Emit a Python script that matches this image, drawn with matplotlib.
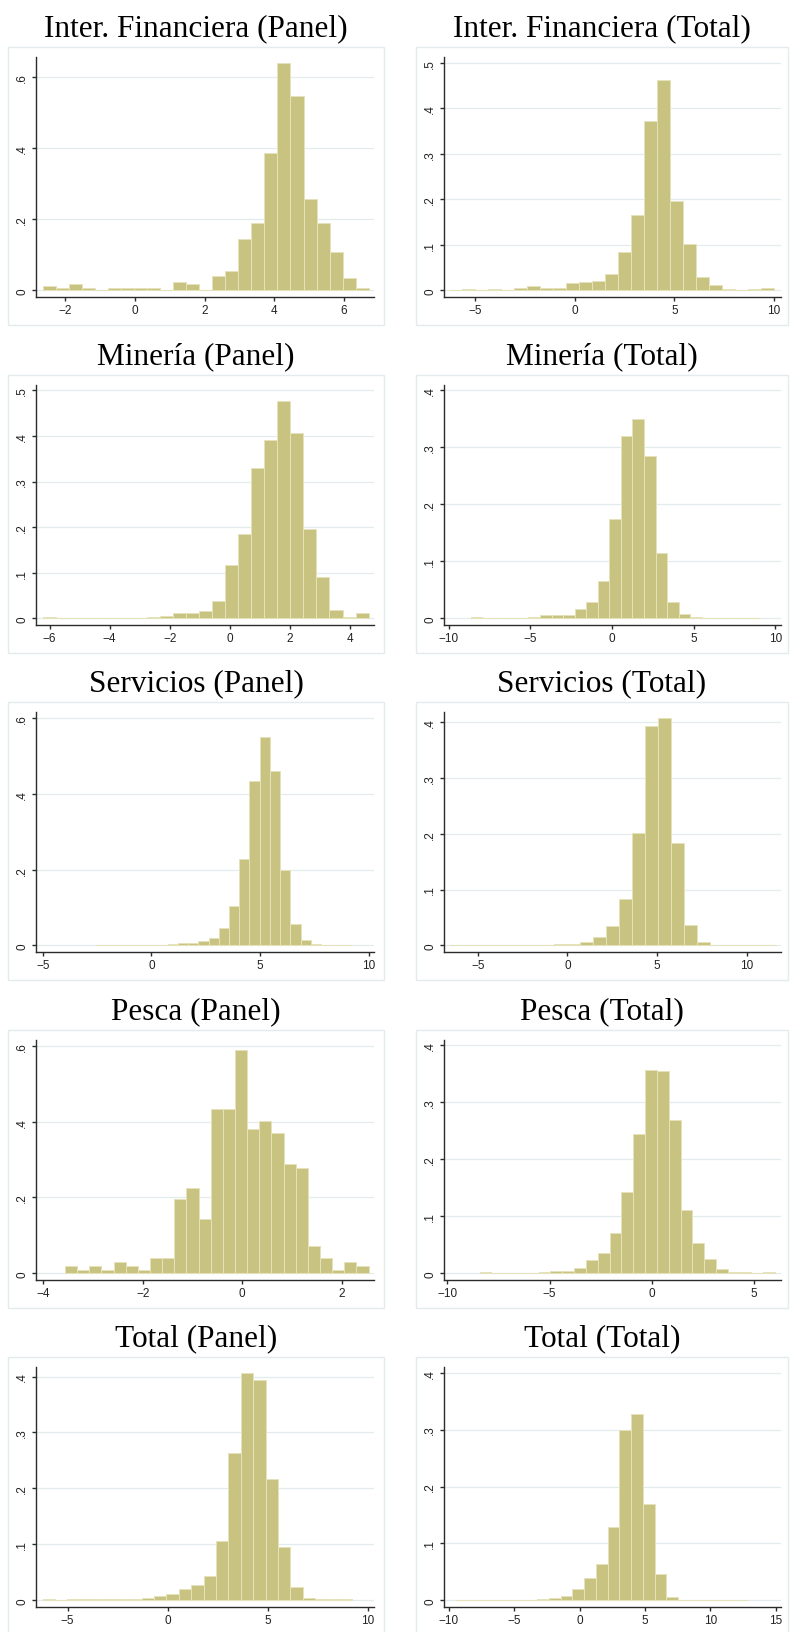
import matplotlib

matplotlib.use("Agg")
import matplotlib.pyplot as plt
import numpy as np
from matplotlib.patches import Rectangle

# Panel titles, left column = Panel, right column = Total
TITLES = [
    "Inter. Financiera (Panel)", "Inter. Financiera (Total)",
    "Minería (Panel)", "Minería (Total)",
    "Servicios (Panel)", "Servicios (Total)",
    "Pesca (Panel)", "Pesca (Total)",
    "Total (Panel)", "Total (Total)",
]

# histogram range (first edge, last edge) and density of the 25 bins
IF_PANEL_RANGE = (-2.65, 6.71)
IF_PANEL = [0.012, 0.007, 0.019, 0.0075, 0, 0.007, 0.007, 0.007, 0.007, 0,
            0.024, 0.019, 0, 0.041, 0.053, 0.143, 0.19, 0.385, 0.64, 0.545,
            0.257, 0.19, 0.109, 0.036, 0.0075]

IF_TOTAL_RANGE = (-6.31, 10.0)
IF_TOTAL = [0.001, 0.003, 0, 0.002, 0.001, 0.006, 0.009, 0.006, 0.006, 0.016,
            0.019, 0.021, 0.037, 0.085, 0.165, 0.372, 0.462, 0.196, 0.101,
            0.029, 0.012, 0.004, 0, 0.003, 0.006]

MIN_PANEL_RANGE = (-6.23, 4.61)
MIN_PANEL = [0.003, 0, 0, 0, 0, 0, 0, 0, 0.003, 0.005, 0.011, 0.011, 0.017,
             0.037, 0.118, 0.184, 0.33, 0.392, 0.477, 0.407, 0.195, 0.09,
             0.019, 0.003, 0.012]

MIN_TOTAL_RANGE = (-8.67, 9.04)
MIN_TOTAL = [0.002, 0, 0.001, 0.001, 0.001, 0.002, 0.005, 0.005, 0.005, 0.017,
             0.029, 0.065, 0.174, 0.32, 0.35, 0.284, 0.114, 0.029, 0.007,
             0.003, 0.001, 0.001, 0, 0.001, 0.001]

SERV_PANEL_RANGE = (-2.54, 9.2)
SERV_PANEL = [0.002, 0.002, 0.002, 0.002, 0.002, 0.002, 0.002, 0.003, 0.005,
              0.007, 0.012, 0.02, 0.046, 0.105, 0.228, 0.435, 0.55, 0.46, 0.2,
              0.056, 0.015, 0.004, 0.002, 0.002, 0.002]

SERV_TOTAL_RANGE = (-6.57, 11.62)
SERV_TOTAL = [0.001, 0.001, 0.001, 0.001, 0.001, 0.001, 0.001, 0.001, 0.002,
              0.003, 0.006, 0.015, 0.035, 0.083, 0.202, 0.393, 0.407, 0.184,
              0.037, 0.006, 0.001, 0.001, 0.001, 0.001, 0.001]

PESCA_PANEL_RANGE = (-3.566, 2.54)
PESCA_PANEL = [0.02, 0.01, 0.02, 0.01, 0.03, 0.02, 0.01, 0.041, 0.041, 0.196,
               0.226, 0.144, 0.433, 0.433, 0.588, 0.381, 0.402, 0.371, 0.289,
               0.278, 0.072, 0.041, 0.01, 0.03, 0.02]

PESCA_TOTAL_RANGE = (-8.42, 6.03)
PESCA_TOTAL = [0.002, 0, 0.001, 0, 0.001, 0.002, 0.004, 0.004, 0.01, 0.023,
               0.035, 0.07, 0.143, 0.244, 0.357, 0.355, 0.268, 0.111, 0.054,
               0.025, 0.007, 0.003, 0.002, 0, 0.002]

TOTAL_PANEL_RANGE = (-6.25, 9.23)
TOTAL_PANEL = [0.002, 0, 0.002, 0.002, 0.002, 0.002, 0.002, 0.003, 0.004,
               0.007, 0.012, 0.021, 0.028, 0.044, 0.106, 0.264, 0.407, 0.394,
               0.217, 0.096, 0.024, 0.005, 0.002, 0.002, 0.002]

TOTAL_TOTAL_RANGE = (-9.5, 12.9)
TOTAL_TOTAL = [0.001, 0.001, 0.001, 0.001, 0.001, 0.001, 0.001, 0.002, 0.004,
               0.008, 0.02, 0.04, 0.063, 0.129, 0.299, 0.327, 0.169, 0.047,
               0.006, 0.001, 0.001, 0.001, 0.001, 0.001, 0.001]

RANGES = [IF_PANEL_RANGE, IF_TOTAL_RANGE, MIN_PANEL_RANGE, MIN_TOTAL_RANGE,
          SERV_PANEL_RANGE, SERV_TOTAL_RANGE, PESCA_PANEL_RANGE,
          PESCA_TOTAL_RANGE, TOTAL_PANEL_RANGE, TOTAL_TOTAL_RANGE]
HEIGHTS = [IF_PANEL, IF_TOTAL, MIN_PANEL, MIN_TOTAL, SERV_PANEL, SERV_TOTAL,
           PESCA_PANEL, PESCA_TOTAL, TOTAL_PANEL, TOTAL_TOTAL]

X_TICKS = [
    [-2, 0, 2, 4, 6], [-5, 0, 5, 10],
    [-6, -4, -2, 0, 2, 4], [-10, -5, 0, 5, 10],
    [-5, 0, 5, 10], [-5, 0, 5, 10],
    [-4, -2, 0, 2], [-10, -5, 0, 5],
    [-5, 0, 5, 10], [-10, -5, 0, 5, 10, 15],
]
Y_TICKS = [
    [0, 0.2, 0.4, 0.6], [0, 0.1, 0.2, 0.3, 0.4, 0.5],
    [0, 0.1, 0.2, 0.3, 0.4, 0.5], [0, 0.1, 0.2, 0.3, 0.4],
    [0, 0.2, 0.4, 0.6], [0, 0.1, 0.2, 0.3, 0.4],
    [0, 0.2, 0.4, 0.6], [0, 0.1, 0.2, 0.3, 0.4],
    [0, 0.1, 0.2, 0.3, 0.4], [0, 0.1, 0.2, 0.3, 0.4],
]
X_LIMS = [(-2.84, 6.86), (-6.57, 10.35), (-6.45, 4.79), (-10.3, 10.35),
          (-5.31, 10.23), (-6.89, 11.92), (-4.15, 2.65), (-10.16, 6.32),
          (-6.58, 10.32), (-10.36, 15.4)]
Y_TOPS = [0.656, 0.513, 0.512, 0.409, 0.617, 0.418, 0.615, 0.409, 0.417, 0.41]

W, H = 790, 1633
ROW_OFFSETS = [0, 328, 655, 983, 1310]
BAR_FACE = "#c9c382"
BAR_EDGE = "#e6e2ba"
GRID = "#e2ebed"
AXIS = "#2b2b2b"


def stata_label(v):
    if v == 0:
        return "0"
    s = ("%g" % v)
    return s.replace("0.", ".") if s.startswith("0.") else s


def main():
    fig = plt.figure(figsize=(W / 100, H / 100), dpi=100)
    fig.patch.set_facecolor("white")

    for i in range(10):
        row, col = divmod(i, 2)
        off = ROW_OFFSETS[row]
        if col == 0:
            ax_l, ax_r = 36, 374
            box_l, box_r = 8, 384
        else:
            ax_l, ax_r = 444, 781
            box_l, box_r = 416, 788
        ax_t, ax_b = 58 + off, 298 + off
        box_t, box_b = 48 + off, 326 + off

        fig.patches.append(Rectangle(
            (box_l / W, 1 - box_b / H), (box_r - box_l) / W, (box_b - box_t) / H,
            transform=fig.transFigure, facecolor="none", edgecolor=GRID,
            linewidth=1.0, zorder=0))

        fig.text((box_l + box_r) / 2 / W, 1 - (36 + off) / H, TITLES[i],
                 ha="center", va="baseline", family="Liberation Serif",
                 fontsize=22.5, color="black")

        ax = fig.add_axes([ax_l / W, 1 - ax_b / H, (ax_r - ax_l) / W,
                           (ax_b - ax_t) / H])
        lo, hi = RANGES[i]
        heights = HEIGHTS[i]
        edges = np.linspace(lo, hi, len(heights) + 1)
        ax.bar(edges[:-1], heights, width=np.diff(edges), align="edge",
               color=BAR_FACE, edgecolor=BAR_EDGE, linewidth=0.7, zorder=2)

        top = Y_TOPS[i]
        ax.set_ylim(-top * 20 / 700, top)
        ax.set_xlim(*X_LIMS[i])
        ax.set_yticks(Y_TICKS[i])
        ax.set_yticklabels([stata_label(v) for v in Y_TICKS[i]], rotation=90,
                           va="center", family="Liberation Sans", fontsize=8.5)
        ax.set_xticks(X_TICKS[i])
        ax.set_xticklabels([("%d" % v).replace("-", "\u2212") for v in X_TICKS[i]],
                           family="Liberation Sans", fontsize=8.5)
        for v in Y_TICKS[i]:
            ax.axhline(v, color=GRID, linewidth=0.9, zorder=1)

        for side in ("top", "right"):
            ax.spines[side].set_visible(False)
        for side in ("left", "bottom"):
            ax.spines[side].set_color(AXIS)
            ax.spines[side].set_linewidth(1.0)
        ax.tick_params(axis="both", direction="out", length=3.2, width=1.0,
                       color=AXIS, labelcolor="#222222")
        ax.tick_params(axis="y", pad=2.5)
        ax.tick_params(axis="x", pad=1.5)
        ax.set_facecolor("none")

    fig.savefig("out.png", dpi=100, facecolor="white")
    plt.close(fig)


if __name__ == "__main__":
    main()
